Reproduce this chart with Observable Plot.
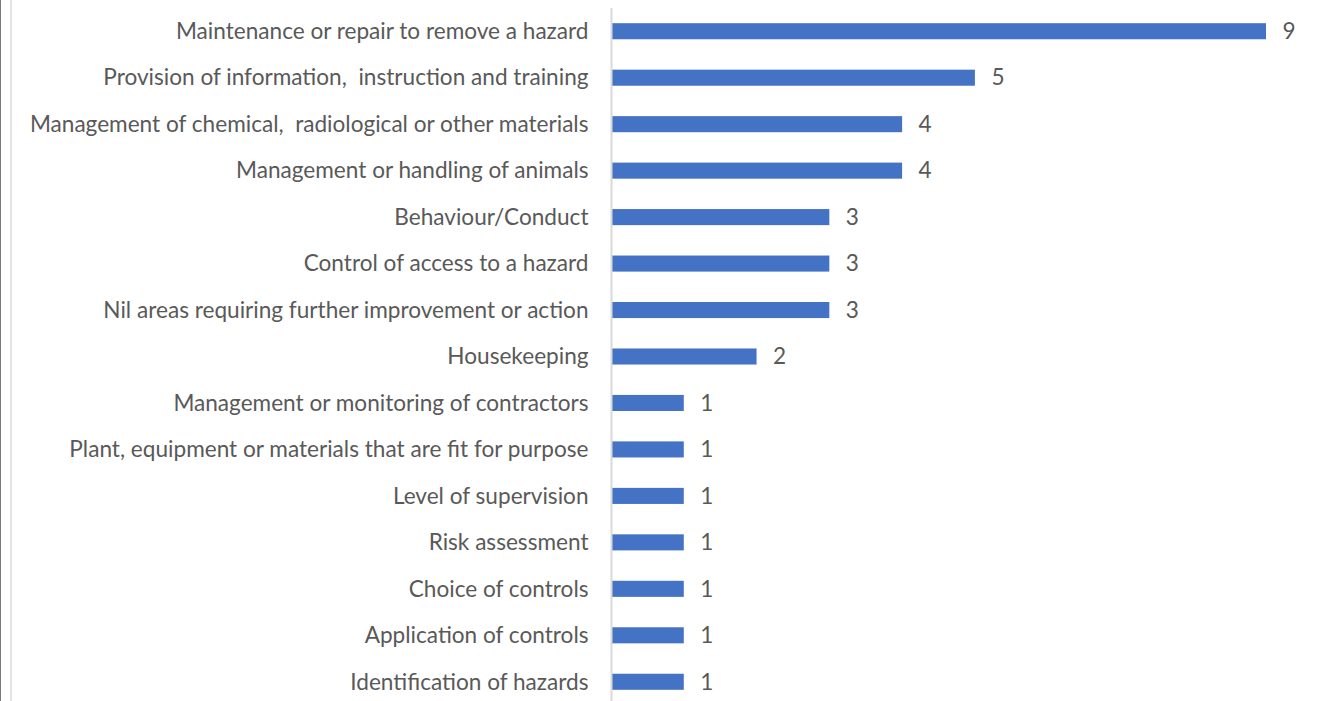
<!DOCTYPE html>
<html>
<head>
<meta charset="utf-8">
<script src="https://cdn.jsdelivr.net/npm/d3@7"></script>
<script src="https://cdn.jsdelivr.net/npm/@observablehq/plot@0.6"></script>
<style>
  html, body { margin: 0; padding: 0; background: #fff; }
  body { width: 1317px; height: 701px; overflow: hidden; position: relative; }
  #edge1 { position: absolute; left: 0; top: 0; width: 1px; height: 701px; background: #7a7a7a; }
  #edge2 { position: absolute; left: 10px; top: 0; width: 2px; height: 701px; background: #e3e3e3; }
  #chart { position: absolute; left: 0; top: 0; }
  svg text { white-space: pre; }
</style>
</head>
<body>
<div id="edge1"></div>
<div id="edge2"></div>
<div id="chart"></div>
<script>
const categories = [
  "Maintenance or repair to remove a hazard",
  "Provision of information,  instruction and training",
  "Management of chemical,  radiological or other materials",
  "Management or handling of animals",
  "Behaviour/Conduct",
  "Control of access to a hazard",
  "Nil areas requiring further improvement or action",
  "Housekeeping",
  "Management or monitoring of contractors",
  "Plant, equipment or materials that are fit for purpose",
  "Level of supervision",
  "Risk assessment",
  "Choice of controls",
  "Application of controls",
  "Identification of hazards"
];
const values = [9, 5, 4, 4, 3, 3, 3, 2, 1, 1, 1, 1, 1, 1, 1];

const data = categories.map((c, i) => ({category: c, value: values[i]}));

const chart = Plot.plot({
  width: 1317,
  height: 701,
  marginLeft: 611,
  marginRight: 51,
  marginTop: 8,
  marginBottom: 0,
  style: {fontFamily: "Lato, 'Open Sans', sans-serif", fontSize: "22.6px", color: "#595959", background: "transparent"},
  x: {domain: [0, 9], axis: null},
  y: {domain: categories, range: [8, 705], padding: 0, round: false, axis: null},
  marks: [
    Plot.barX(data, {x: "value", y: "category", fill: "#4472c4", insetTop: 15.2, insetBottom: 15.2}),
    Plot.ruleX([0], {stroke: "#d9d9d9", strokeWidth: 2}),
    Plot.text(data, {x: 0, y: "category", text: "category", textAnchor: "end", dx: -23, fill: "#595959", fontSize: 22.6}),
    Plot.text(data, {x: "value", y: "category", text: d => String(d.value), textAnchor: "start", dx: 16, fill: "#595959", fontSize: 22.6})
  ]
});
document.getElementById("chart").appendChild(chart);
</script>
</body>
</html>
